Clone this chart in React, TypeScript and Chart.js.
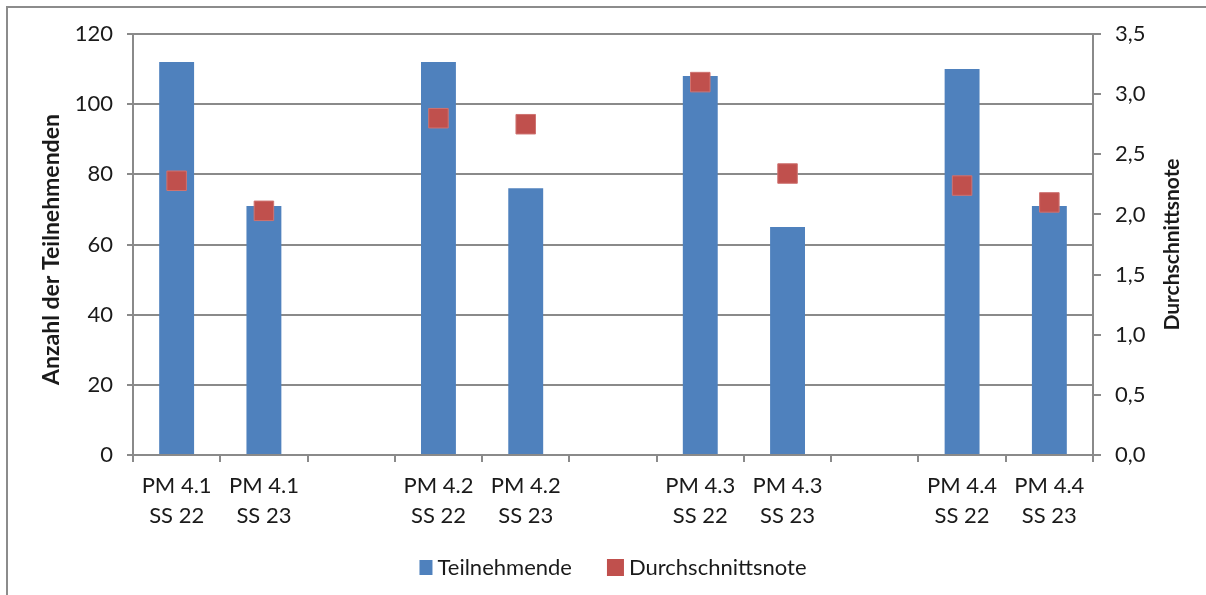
import React, { useEffect, useRef } from "react";
import { Chart, registerables } from "chart.js";

Chart.register(...registerables);

const categories: string[][] = [
  ["PM 4.1", "SS 22"],
  ["PM 4.1", "SS 23"],
  ["", ""],
  ["PM 4.2", "SS 22"],
  ["PM 4.2", "SS 23"],
  ["", ""],
  ["PM 4.3", "SS 22"],
  ["PM 4.3", "SS 23"],
  ["", ""],
  ["PM 4.4", "SS 22"],
  ["PM 4.4", "SS 23"],
];
const teilnehmende: (number | null)[] = [112, 71, null, 112, 76, null, 108, 65, null, 110, 71];
const durchschnittsnote: (number | null)[] = [2.28, 2.03, null, 2.8, 2.75, null, 3.1, 2.34, null, 2.24, 2.1];
const seriesNames = ["Teilnehmende", "Durchschnittsnote"];
const leftTitle = "Anzahl der Teilnehmenden";
const rightTitle = "Durchschnittsnote";

const FONT = "Lato, 'Open Sans', sans-serif";
const BLUE = "#4F81BD";
const RED = "#C0504D";
const GRID = "#8a8a8a";
const TEXT = "#1a1a1a";

const overlayPlugin = {
  id: "overlay",
  afterDraw(chart: any) {
    const ctx = chart.ctx as CanvasRenderingContext2D;
    const ca = chart.chartArea;
    ctx.save();
    // axis titles
    ctx.fillStyle = TEXT;
    ctx.textAlign = "center";
    ctx.textBaseline = "middle";
    const midY = (ca.top + ca.bottom) / 2;
    ctx.save();
    ctx.font = `bold 23px ${FONT}`;
    ctx.translate(ca.left - 81, midY + 5);
    ctx.rotate(-Math.PI / 2);
    ctx.fillText(leftTitle, 0, 0);
    ctx.restore();
    ctx.save();
    ctx.font = `bold 21px ${FONT}`;
    ctx.translate(ca.right + 79, midY);
    ctx.rotate(-Math.PI / 2);
    ctx.fillText(rightTitle, 0, 0);
    ctx.restore();

    // legend
    ctx.font = `22px ${FONT}`;
    ctx.textAlign = "left";
    const w1 = ctx.measureText(seriesNames[0]).width;
    const w2 = ctx.measureText(seriesNames[1]).width;
    const total = 13 + 5 + w1 + 35 + 17 + 5 + w2;
    const cx = (ca.left + ca.right) / 2;
    let x = cx - total / 2;
    const ly = 568;
    ctx.fillStyle = BLUE;
    ctx.fillRect(x, ly - 8, 13, 15);
    x += 18;
    ctx.fillStyle = TEXT;
    ctx.fillText(seriesNames[0], x, ly);
    x += w1 + 35;
    ctx.fillStyle = RED;
    ctx.fillRect(x, ly - 9, 17, 17);
    x += 22;
    ctx.fillStyle = TEXT;
    ctx.fillText(seriesNames[1], x, ly);
    ctx.restore();
  },
};

export default function App() {
  const ref = useRef<HTMLCanvasElement | null>(null);
  useEffect(() => {
    if (!ref.current) return;
    const chart = new Chart(ref.current, {
      type: "bar",
      data: {
        labels: categories as any,
        datasets: [
          {
            type: "line",
            label: seriesNames[1],
            data: durchschnittsnote,
            yAxisID: "y1",
            showLine: false,
            pointStyle: "rect",
            pointRadius: 13.8,
            pointBackgroundColor: RED,
            pointBorderColor: "#cf7371",
            pointBorderWidth: 1,
            order: 0,
          } as any,
          {
            type: "bar",
            label: seriesNames[0],
            data: teilnehmende,
            yAxisID: "y",
            backgroundColor: BLUE,
            barPercentage: 0.4,
            categoryPercentage: 1,
            order: 1,
          },
        ],
      },
      options: {
        responsive: false,
        animation: false,
        layout: { padding: { top: 34, left: 0, right: 0, bottom: 0 } },
        plugins: {
          legend: { display: false },
          tooltip: { enabled: false },
        },
        scales: {
          x: {
            offset: true,
            grid: {
              offset: true,
              drawOnChartArea: false,
              drawTicks: true,
              tickLength: 7,
              color: GRID,
              lineWidth: 2,
            },
            border: { color: GRID, width: 2 },
            ticks: {
              color: TEXT,
              font: { family: FONT, size: 22, lineHeight: 1.36 },
              padding: 9,
              maxRotation: 0,
              autoSkip: false,
            },
            afterFit(scale: any) {
              scale.height = 140;
            },
          },
          y: {
            position: "left",
            min: 0,
            max: 120,
            ticks: {
              stepSize: 20,
              color: TEXT,
              font: { family: FONT, size: 22 },
              padding: 14,
            },
            grid: { color: GRID, lineWidth: 2, tickLength: 6 },
            border: { color: GRID, width: 2 },
            afterFit(scale: any) {
              scale.width = 133;
            },
          },
          y1: {
            position: "right",
            min: 0,
            max: 3.5,
            ticks: {
              stepSize: 0.5,
              color: TEXT,
              font: { family: FONT, size: 22 },
              padding: 14,
              callback: (v: any) => Number(v).toFixed(1).replace(".", ","),
            },
            grid: { drawOnChartArea: false, color: GRID, lineWidth: 2, tickLength: 8 },
            border: { color: GRID, width: 2 },
            afterFit(scale: any) {
              scale.width = 113;
            },
          },
        },
      },
      plugins: [overlayPlugin],
    });
    return () => chart.destroy();
  }, []);

  return (
    <div style={{ position: "fixed", left: 0, top: 0, width: 1206, height: 595, background: "#fff" }}>
      <div
        style={{
          position: "absolute",
          left: 6,
          top: 6,
          right: -10,
          bottom: -10,
          borderLeft: "2px solid #8c8c8c",
          borderTop: "2px solid #8c8c8c",
          pointerEvents: "none",
        }}
      />
      <canvas ref={ref} width={1206} height={595} style={{ position: "absolute", left: 0, top: 0 }} />
    </div>
  );
}
